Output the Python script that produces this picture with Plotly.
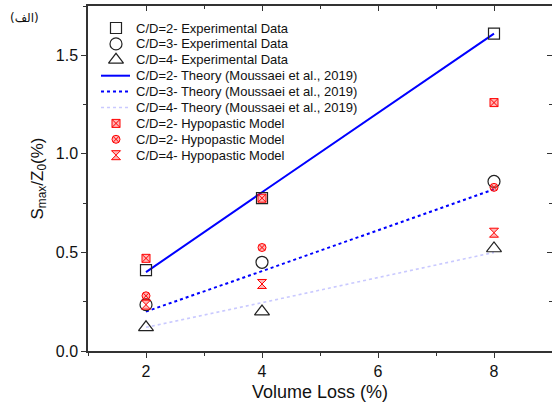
import plotly.graph_objects as go

# ---------------- data ----------------
volume_loss = [2, 4, 8]
exp_cd2 = [0.41, 0.775, 1.61]
exp_cd3 = [0.235, 0.45, 0.86]
exp_cd4 = [0.12, 0.20, 0.52]
theory_cd2 = [0.40, 0.805, 1.61]
theory_cd3 = [0.20, 0.405, 0.82]
theory_cd4 = [0.12, 0.245, 0.50]
hypo_cd2 = [0.47, 0.775, 1.26]
hypo_cd3 = [0.28, 0.525, 0.83]
hypo_cd4 = [0.235, 0.34, 0.60]
series_names = [
    "C/D=2- Experimental Data",
    "C/D=3- Experimental Data",
    "C/D=4- Experimental Data",
    "C/D=2- Theory (Moussaei et al., 2019)",
    "C/D=3- Theory (Moussaei et al., 2019)",
    "C/D=4- Theory (Moussaei et al., 2019)",
    "C/D=2- Hypopastic Model",
    "C/D=2- Hypopastic Model",
    "C/D=4- Hypopastic Model",
]
x_title = "Volume Loss (%)"
y_title = "S<sub>max</sub>/Z<sub>0</sub>(%)"
panel_label = "(الف)"

# ---------------- layout geometry ----------------
W, H = 552, 410
ML, MR, MT, MB = 88, 0, 6, 59
FONT = "Liberation Sans, Arial, sans-serif"
AX = "#333333"
RED = "#ff0000"
PINK = "rgba(255,90,90,0.45)"

styles = [
    dict(kind="marker", marker=dict(symbol="square-open", size=11, color="#222", line=dict(width=1.2, color="#222"))),
    dict(kind="marker", marker=dict(symbol="circle-open", size=12, color="#222", line=dict(width=1.2, color="#222"))),
    dict(kind="marker", marker=dict(symbol="triangle-up-open", size=13, color="#222", line=dict(width=1.2, color="#222"))),
    dict(kind="line", line=dict(color="#0000ff", width=2, dash="solid")),
    dict(kind="line", line=dict(color="#0000ff", width=2, dash="dot")),
    dict(kind="line", line=dict(color="#c9c9ff", width=1.6, dash="dot")),
    dict(kind="marker", marker=dict(symbol="square-x", size=8, color=PINK, line=dict(width=1, color=RED))),
    dict(kind="marker", marker=dict(symbol="circle-x", size=8, color=PINK, line=dict(width=1, color=RED))),
    dict(kind="marker", marker=dict(symbol="hourglass", size=9, color=PINK, line=dict(width=1, color=RED))),
]
series_vals = [exp_cd2, exp_cd3, exp_cd4, theory_cd2, theory_cd3, theory_cd4,
               hypo_cd2, hypo_cd3, hypo_cd4]

fig = go.Figure()

draw_order = [3, 4, 5, 0, 1, 2, 6, 7, 8]
for i in draw_order:
    st = styles[i]
    if st["kind"] == "line":
        fig.add_trace(go.Scatter(x=volume_loss, y=series_vals[i], mode="lines",
                                 line=st["line"], name=series_names[i], showlegend=False))
    else:
        fig.add_trace(go.Scatter(x=volume_loss, y=series_vals[i], mode="markers",
                                 marker=st["marker"], name=series_names[i], showlegend=False))

# invisible trace for mirrored (top/right) axes
fig.add_trace(go.Scatter(x=[None], y=[None], xaxis="x2", yaxis="y2", showlegend=False, hoverinfo="skip"))

# ---------------- custom compact legend ----------------
row0, row_step = 28, 15.9
sym_x, line_x0, line_x1, text_x = 116, 101, 130, 134
for i, name in enumerate(series_names):
    py = row0 + row_step * i
    st = styles[i]
    if st["kind"] == "line":
        fig.add_trace(go.Scatter(x=[line_x0, line_x1], y=[py, py], mode="lines", line=st["line"],
                                 xaxis="x3", yaxis="y3", showlegend=False, hoverinfo="skip"))
    else:
        fig.add_trace(go.Scatter(x=[sym_x], y=[py], mode="markers", marker=st["marker"],
                                 xaxis="x3", yaxis="y3", showlegend=False, hoverinfo="skip"))
    fig.add_annotation(x=text_x, y=py, xref="x3", yref="y3", text=name, showarrow=False,
                       xanchor="left", yanchor="middle", font=dict(family=FONT, size=13, color="#111"))

fig.add_annotation(x=(8 - ML) / (W - ML - MR), y=(H - MB - 18) / (H - MT - MB), xref="paper", yref="paper",
                   text=panel_label, showarrow=False, xanchor="left", yanchor="middle",
                   font=dict(family="DejaVu Sans, Noto Sans", size=12, color="#111"))

common = dict(showgrid=False, zeroline=False, showline=True, linecolor=AX, linewidth=1.5,
              tickcolor=AX, tickwidth=1.2)
fig.update_layout(
    width=W, height=H,
    margin=dict(l=ML, r=MR, t=MT, b=MB),
    paper_bgcolor="white", plot_bgcolor="white",
    font=dict(family=FONT, color="#111"),
    xaxis=dict(range=[1, 9], tick0=0, dtick=2, ticks="outside", ticklen=5,
               minor=dict(dtick=1, tick0=0, ticks="outside", ticklen=3, tickcolor=AX),
               tickfont=dict(size=16, family=FONT, color="#111"),
               title=dict(text=x_title, font=dict(size=18, family=FONT, color="#111"), standoff=6),
               **common),
    yaxis=dict(range=[0, 1.75], tick0=0, dtick=0.5, tickformat=".1f", ticks="outside", ticklen=5,
               minor=dict(dtick=0.25, tick0=0, ticks="outside", ticklen=3, tickcolor=AX),
               tickfont=dict(size=16, family=FONT, color="#111"),
               title=dict(text=y_title, font=dict(size=17, family=FONT, color="#111"), standoff=8),
               **common),
    xaxis2=dict(overlaying="x", side="top", anchor="y", range=[1, 9], tick0=0, dtick=2,
                ticks="inside", ticklen=5, showticklabels=False,
                minor=dict(dtick=1, tick0=0, ticks="inside", ticklen=3, tickcolor=AX), **common),
    yaxis2=dict(overlaying="y", side="right", anchor="x", range=[0, 1.75], tick0=0, dtick=0.5,
                ticks="inside", ticklen=5, showticklabels=False,
                minor=dict(dtick=0.25, tick0=0, ticks="inside", ticklen=3, tickcolor=AX), **common),
    xaxis3=dict(overlaying="x", range=[ML, W - MR], visible=False, anchor="y3"),
    yaxis3=dict(overlaying="y", range=[H - MB, MT], visible=False, anchor="x3"),
)

fig.write_html("out.html")
